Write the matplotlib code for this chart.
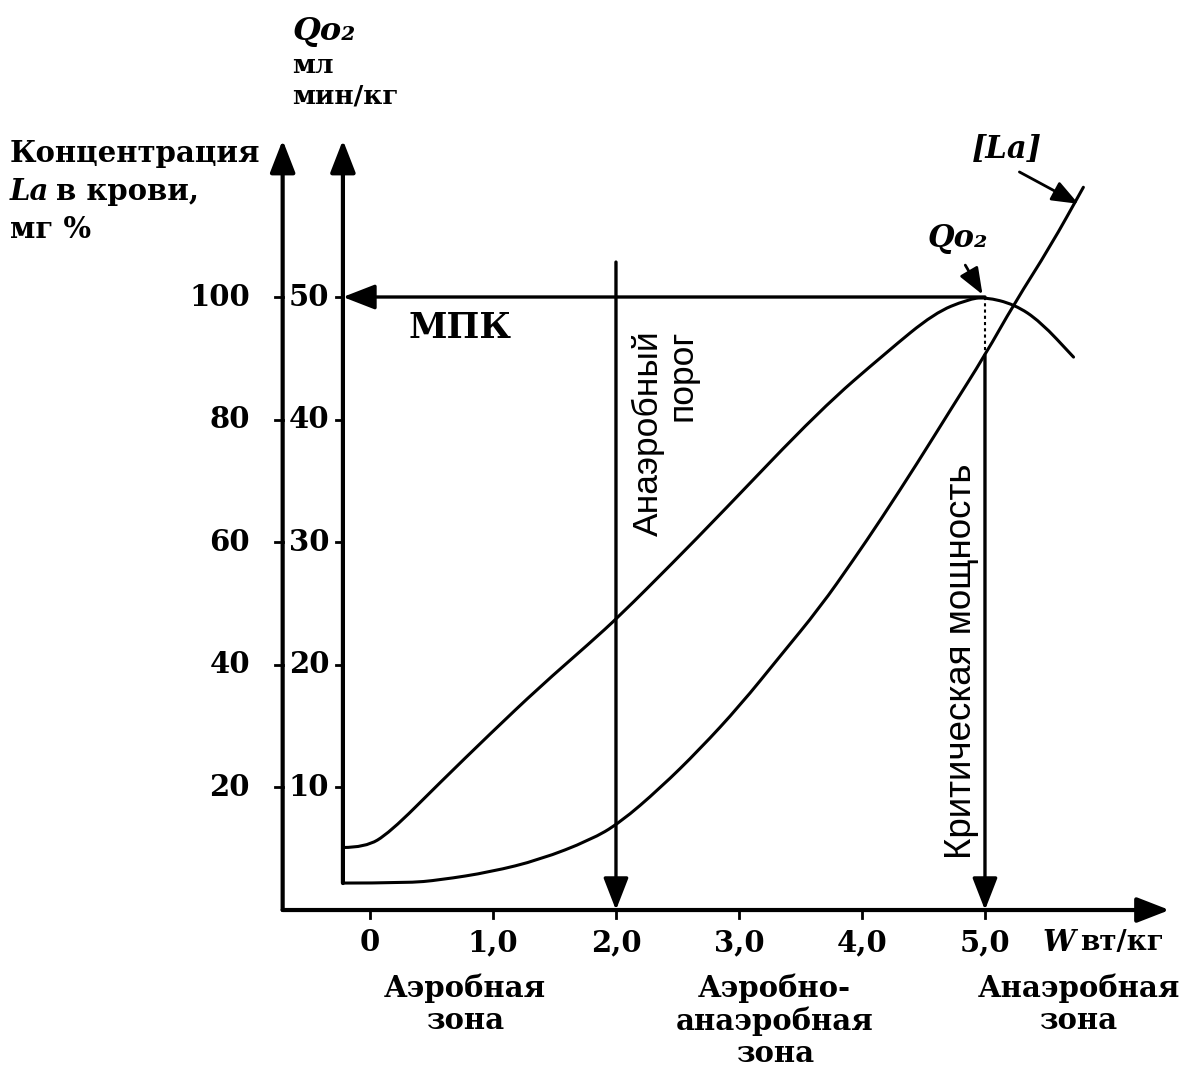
import matplotlib
matplotlib.use('Agg')
import matplotlib.pyplot as plt
from matplotlib.path import Path
from matplotlib.patches import PathPatch
import numpy as np

# lactate curve [La], mg %  (W in W/kg)
la_w = [-0.22, 0.30, 0.57, 0.98, 1.38, 1.79, 2.03, 2.36, 2.68, 3.01, 3.33,
        3.66, 3.93, 4.15, 4.45, 4.72, 5.00, 5.24, 5.53, 5.80]
la_val = [4.4, 4.4, 4.9, 6.2, 8.2, 11.4, 14.2, 19.9, 26.2, 33.4, 41.3,
          49.4, 57.1, 63.6, 72.9, 81.6, 90.5, 99.0, 108.2, 117.9]

# oxygen uptake curve Qo2, ml/min/kg
qo_w = [-0.22, -0.04, 0.16, 0.57, 0.98, 1.38, 1.79, 2.03, 2.46, 2.85, 3.66,
        4.20, 4.59, 4.86, 5.00, 5.24, 5.45, 5.72]
qo_val = [5.1, 5.1, 6.3, 10.4, 14.4, 18.2, 21.8, 24.0, 28.3, 32.3, 40.8,
          45.5, 48.7, 49.8, 50.0, 49.4, 48.0, 45.1]

la_ticks = [20, 40, 60, 80, 100]
qo_ticks = [10, 20, 30, 40, 50]
w_ticks = [0, 1, 2, 3, 4, 5]
w_labels = ['0', '1,0', '2,0', '3,0', '4,0', '5,0']

anaerobic_threshold = 2.0
critical_power = 5.0
vo2max = 50

QO_SCALE = 2.0  # 1 ml/min/kg drawn as 2 mg % on the shared vertical scale
X_LA_AXIS = -0.71
X_QO_AXIS = -0.22

serif = ['DejaVu Serif']
sans = ['Liberation Sans', 'DejaVu Sans']

fig = plt.figure(figsize=(11.83, 10.71), dpi=100)
ax = fig.add_axes([0, 0, 1, 1])
ax.set_xlim(-3.008, 6.610)
ax.set_ylim(-26.26, 148.45)
ax.axis('off')

lw_axis = 3.0
lw_curve = 2.2
head = '-|>,head_length=0.9,head_width=0.35'


def arrow(x0, y0, x1, y1, lw=lw_axis, ms=22):
    ax.annotate('', xy=(x1, y1), xytext=(x0, y0),
                arrowprops=dict(arrowstyle=head, lw=lw, color='k',
                                mutation_scale=ms, shrinkA=0, shrinkB=0))


def smooth_curve(xs, ys):
    # quadratic b-spline style path through the read points
    pts = list(zip(xs, ys))
    verts = [pts[0]]
    codes = [Path.MOVETO]
    for i in range(1, len(pts) - 1):
        mid = ((pts[i][0] + pts[i + 1][0]) / 2, (pts[i][1] + pts[i + 1][1]) / 2)
        verts += [pts[i], mid]
        codes += [Path.CURVE3, Path.CURVE3]
    verts.append(pts[-1])
    codes.append(Path.LINETO)
    ax.add_patch(PathPatch(Path(verts, codes), fill=False, lw=lw_curve,
                           edgecolor='k', capstyle='round'))


# axes
arrow(X_LA_AXIS, 0, X_LA_AXIS, 125.6)
arrow(X_QO_AXIS, la_val[0], X_QO_AXIS, 125.6)
arrow(X_LA_AXIS, 0, 6.50, 0)

for t in la_ticks:
    ax.plot([X_LA_AXIS - 0.06, X_LA_AXIS], [t, t], color='k', lw=2)
    ax.text(-0.976, t, str(t), ha='right', va='center', fontsize=21,
            family=serif, fontweight='bold')
for t in qo_ticks:
    ax.plot([X_QO_AXIS - 0.06, X_QO_AXIS], [t * QO_SCALE] * 2, color='k', lw=2)
    ax.text(-0.33, t * QO_SCALE, str(t), ha='right', va='center', fontsize=21,
            family=serif, fontweight='bold')
for t, lab in zip(w_ticks, w_labels):
    ax.plot([t, t], [0, -1.3], color='k', lw=2)
    ax.text(t, -5.3, lab, ha='center', va='center', fontsize=21,
            family=serif, fontweight='bold')

# curves
smooth_curve(la_w, la_val)
smooth_curve(qo_w, np.array(qo_val) * QO_SCALE)
ax.plot([X_QO_AXIS, la_w[0]], [la_val[0], la_val[0]], color='k', lw=lw_curve)

# MPK line
arrow(critical_power, vo2max * QO_SCALE, X_QO_AXIS, vo2max * QO_SCALE, lw=2.4)

# anaerobic threshold
arrow(anaerobic_threshold, 105.7, anaerobic_threshold, 0, lw=2.4)

# critical power
la_at_cp = np.interp(critical_power, la_w, la_val)
ax.plot([critical_power] * 2, [vo2max * QO_SCALE, la_at_cp], color='k',
        lw=1.5, ls=(0, (1.5, 1.5)))
arrow(critical_power, la_at_cp, critical_power, 0, lw=2.4)

# labels
ax.text(-0.634, 141.9, 'Qo₂', fontsize=23, family=serif, style='italic',
        fontweight='bold', va='baseline')
ax.text(-0.634, 136.5, 'мл', fontsize=19, family=serif, fontweight='bold',
        va='baseline')
ax.text(-0.634, 131.6, 'мин/кг', fontsize=19, family=serif, fontweight='bold',
        va='baseline')

ax.text(-2.927, 122.0, 'Концентрация', fontsize=21, family=serif,
        fontweight='bold', va='baseline')
ax.text(-2.927, 115.8, 'La', fontsize=21, family=serif, style='italic',
        fontweight='bold', va='baseline')
ax.text(-2.55, 115.8, 'в крови,', fontsize=21, family=serif,
        fontweight='bold', va='baseline')
ax.text(-2.927, 109.6, 'мг %', fontsize=21, family=serif, fontweight='bold',
        va='baseline')

ax.text(0.73, 94.9, 'МПК', fontsize=25, family=serif, fontweight='bold',
        ha='center', va='center')

ax.text(2.40, 94.6, 'Анаэробный\nпорог', fontsize=25.5, family=sans,
        rotation=90, ha='center', va='top', multialignment='right',
        linespacing=1.0)
ax.text(4.81, 40.6, 'Критическая мощность', fontsize=26.5, family=sans,
        rotation=90, ha='center', va='center')

ax.text(4.78, 109.6, 'Qo₂', fontsize=22, family=serif, style='italic',
        fontweight='bold', ha='center', va='center')
arrow(4.84, 105.2, 4.98, 100.4, lw=2, ms=18)
ax.text(5.18, 124.0, '[La]', fontsize=22, family=serif, style='italic',
        fontweight='bold', ha='center', va='center')
arrow(5.28, 120.4, 5.76, 115.2, lw=2, ms=18)

ax.text(5.47, -5.3, 'W', fontsize=21, family=serif, style='italic',
        fontweight='bold', ha='left', va='center')
ax.text(5.77, -5.3, 'вт/кг', fontsize=20, family=serif, fontweight='bold',
        ha='left', va='center')

zone_kw = dict(fontsize=21, family=serif, fontweight='bold', ha='center',
               va='top', linespacing=1.15)
ax.text(0.77, -10.3, 'Аэробная\nзона', **zone_kw)
ax.text(3.29, -10.3, 'Аэробно-\nанаэробная\nзона', **zone_kw)
ax.text(5.76, -10.3, 'Анаэробная\nзона', **zone_kw)

fig.savefig('out.png', dpi=100, facecolor='white')
